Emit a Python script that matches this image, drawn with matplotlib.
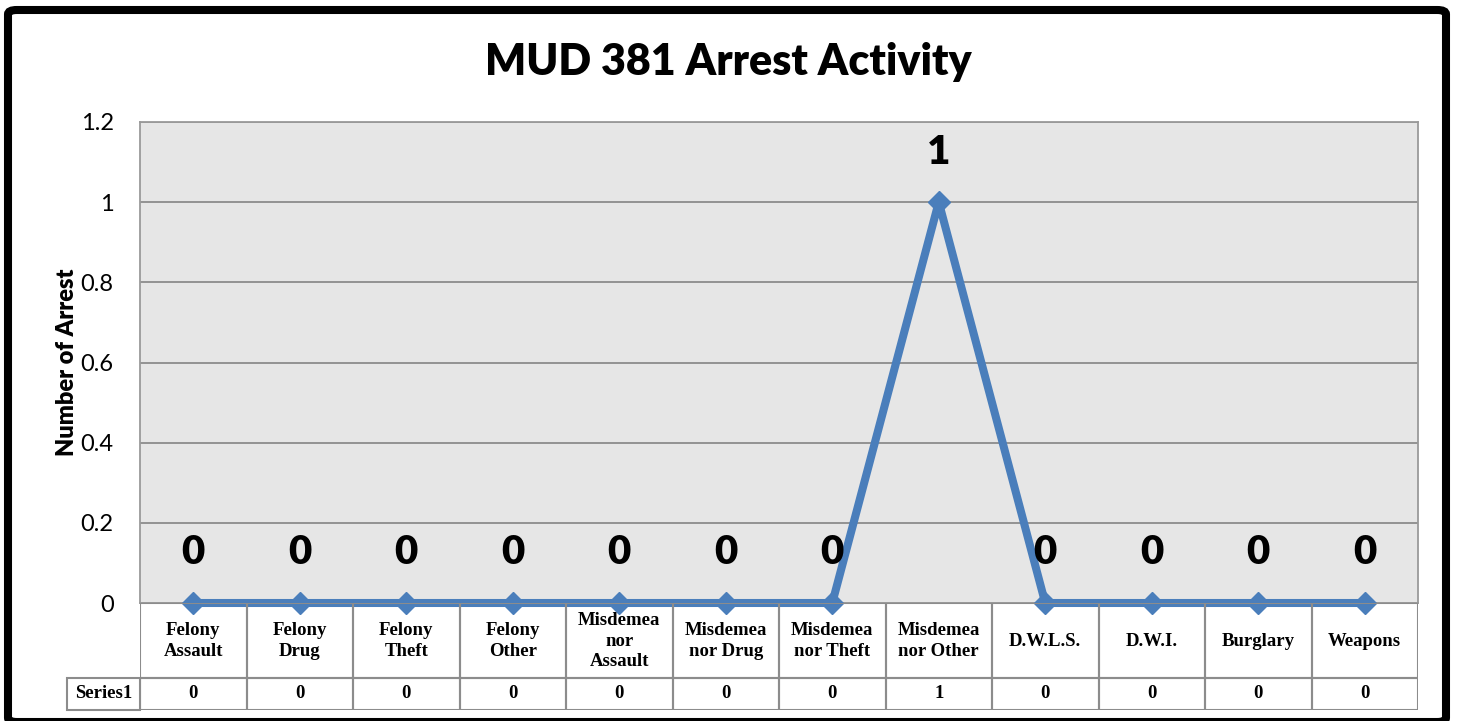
import matplotlib
matplotlib.use("Agg")
import matplotlib.pyplot as plt
from matplotlib.patches import FancyBboxPatch, Rectangle

# data
categories = ["Felony\nAssault", "Felony\nDrug", "Felony\nTheft", "Felony\nOther",
              "Misdemea\nnor\nAssault", "Misdemea\nnor Drug", "Misdemea\nnor Theft",
              "Misdemea\nnor Other", "D.W.L.S.", "D.W.I.", "Burglary", "Weapons"]
arrests = [0, 0, 0, 0, 0, 0, 0, 1, 0, 0, 0, 0]
series_name = "Series1"
yticks = [0, 0.2, 0.4, 0.6, 0.8, 1, 1.2]
ytick_labels = ["0", "0.2", "0.4", "0.6", "0.8", "1", "1.2"]

W, H = 1458, 721
blue = "#4A7EBB"
grid_c = "#8C8C8C"
sans = ["Lato", "DejaVu Sans"]
serif = ["Liberation Serif", "DejaVu Serif"]

fig = plt.figure(figsize=(W / 100, H / 100), dpi=100)

def fx(px):
    return px / W

def fy(py):
    return 1 - py / H

# main plot area: x 140..1418, y 122..603 px
ax = fig.add_axes([fx(140), fy(603), fx(1418) - fx(140), fy(122) - fy(603)])
ax.set_facecolor("#E6E6E6")
x = list(range(len(categories)))
ax.set_xlim(-0.5, len(categories) - 0.5)
ax.set_ylim(0, 1.2)
ax.set_yticks(yticks)
ax.set_yticklabels(ytick_labels, fontsize=17, family=sans)
ax.set_xticks([])
ax.tick_params(axis="y", length=0, pad=19)
ax.grid(axis="y", color=grid_c, linewidth=1.3)
ax.set_axisbelow(True)
for s in ax.spines.values():
    s.set_color("#9A9A9A")
    s.set_linewidth(1.3)

ax.plot(x, arrests, color=blue, linewidth=5.8, marker="D", markersize=11,
        markeredgecolor=blue, clip_on=False, zorder=5)
for xi, v in zip(x, arrests):
    ax.annotate(str(v), (xi, v), xytext=(0, 36), textcoords="offset points",
                ha="center", va="center", fontsize=29, fontweight="heavy",
                family=sans, zorder=6)

ax.set_ylabel("Number of Arrest", fontsize=17, fontweight="heavy", family=sans, labelpad=2)
fig.text(fx(728), fy(62), "MUD 381 Arrest Activity", ha="center", va="center",
         fontsize=31, fontweight="heavy", family=sans)

# data table below: y 603..710 px, row split at 678
tab = fig.add_axes([fx(140), fy(710), fx(1418) - fx(140), fy(603) - fy(710)])
tab.set_xlim(-0.5, len(categories) - 0.5)
tab.set_ylim(0, 107)
tab.axis("off")
cell_w = 1.0
left_ext = -0.5 - 73 / 106.5
tc = "#8C8C8C"
for xi, cat, v in zip(x, categories, arrests):
    tab.add_patch(Rectangle((xi - 0.5, 32), cell_w, 75, fill=False, edgecolor=tc, linewidth=1.5))
    tab.add_patch(Rectangle((xi - 0.5, 0), cell_w, 32, fill=False, edgecolor=tc, linewidth=1.5))
    tab.text(xi, 69, cat, ha="center", va="center", fontsize=13.5, fontweight="bold",
             family=serif, linespacing=1.25)
    tab.text(xi, 16, str(v), ha="center", va="center", fontsize=13.5, fontweight="bold",
             family=serif)
tab.add_patch(Rectangle((left_ext, 0), -0.5 - left_ext, 32, fill=False, edgecolor=tc,
                        linewidth=1.5, clip_on=False))
tab.text((left_ext - 0.5) / 2, 16, series_name, ha="center", va="center", fontsize=13.5,
         fontweight="bold", family=serif, clip_on=False)

# outer black frame
frame = FancyBboxPatch((fx(8), fy(722)), fx(1446) - fx(8), fy(10) - fy(722),
                       boxstyle="round,pad=0,rounding_size=0.006",
                       transform=fig.transFigure, fill=False, edgecolor="black",
                       linewidth=5.8, zorder=10)
fig.patches.append(frame)

fig.savefig("out.png", dpi=100)
